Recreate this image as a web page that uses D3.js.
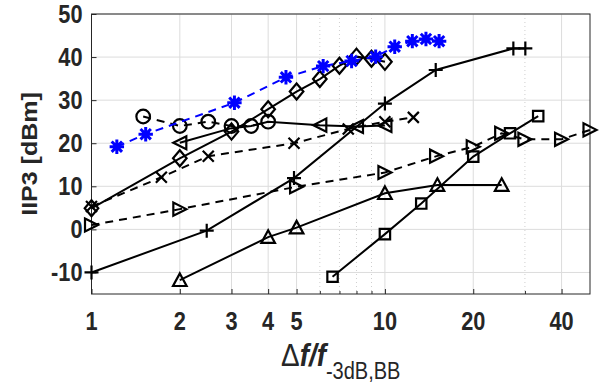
<!DOCTYPE html>
<html>
<head>
<meta charset="utf-8">
<script src="https://cdn.jsdelivr.net/npm/d3@7"></script>
<style>
  html, body { margin: 0; padding: 0; background: #ffffff; }
  svg { display: block; }
  text { font-family: "Liberation Sans", Arial, sans-serif; fill: #262626; }
</style>
</head>
<body>
<svg id="chart" width="601" height="392"></svg>
<script>
// Axis ticks
const xTicks = [1, 2, 3, 4, 5, 10, 20, 40];
const xMinor = [6, 7, 8, 9, 30];
const yTicks = [-10, 0, 10, 20, 30, 40, 50];

// Blue asterisks (dashed)
const starX = [1.22, 1.53, 3.07, 4.6, 6.16, 7.7, 9.3, 10.8, 12.4, 13.8, 15.3];
const starY = [19.2, 22.1, 29.4, 35.3, 37.9, 39.1, 40.1, 42.4, 43.7, 44.2, 43.7];

// Diamonds (solid)
const diamondX = [1, 2, 3, 4, 5, 6, 7, 8, 9, 10];
const diamondY = [4.9, 16.5, 22.7, 27.9, 32.0, 34.9, 38.0, 40.1, 39.6, 38.9];

// Circles (dashed)
const circleX = [1.5, 2, 2.5, 3, 3.5, 4];
const circleY = [26.2, 24.0, 25.0, 24.0, 24.0, 25.0];

// Left-pointing triangles (solid); markers only where flagged
const leftX = [2, 3, 3.5, 4, 6, 8, 10];
const leftY = [20.1, 23.5, 24.0, 25.0, 24.2, 23.9, 24.1];
const leftMarked = [true, false, false, false, true, true, true];

// Crosses (dashed)
const crossX = [1, 1.73, 2.5, 4.9, 7.5, 10, 12.5];
const crossY = [5.3, 12.1, 17.0, 20.0, 23.3, 25.0, 26.0];

// Right-pointing triangles (dashed)
const rightX = [1, 2, 5, 10, 15, 20, 25, 30, 40, 50];
const rightY = [1.0, 4.7, 9.9, 13.2, 17.0, 19.2, 22.3, 20.9, 20.9, 23.1];

// Plus signs (solid)
const plusX = [1, 2.47, 4.9, 10, 14.9, 27.4, 30.1];
const plusY = [-10, -0.3, 11.9, 29.2, 37.0, 42.0, 42.0];

// Upward triangles (solid)
const upX = [2, 4, 5, 10, 15.1, 25];
const upY = [-11.8, -1.8, 0.4, 8.4, 10.3, 10.3];

// Squares (solid)
const squareX = [6.63, 10, 13.3, 20, 26.7, 33.3];
const squareY = [-11.0, -1.1, 6.0, 16.9, 22.3, 26.3];

const svg = d3.select("#chart");
const L = 91.5, R = 590, T = 14, B = 294;
const x = d3.scaleLog().domain([1, 50]).range([L, R]);
const y = d3.scaleLinear().domain([-15, 50]).range([B, T]);
const SX = 0.87; // horizontal condensing of the lettering

// Grid
const grid = svg.append("g");
grid.selectAll("line.gx").data(xTicks).join("line")
  .attr("x1", d => x(d)).attr("x2", d => x(d)).attr("y1", T).attr("y2", B)
  .attr("stroke", "#dcdcdc").attr("stroke-width", 1);
grid.selectAll("line.gm").data(xMinor).join("line")
  .attr("x1", d => x(d)).attr("x2", d => x(d)).attr("y1", T).attr("y2", B)
  .attr("stroke", "#cfcfcf").attr("stroke-width", 1).attr("stroke-dasharray", "1,3");
grid.selectAll("line.gy").data(yTicks).join("line")
  .attr("x1", L).attr("x2", R).attr("y1", d => y(d)).attr("y2", d => y(d))
  .attr("stroke", "#dcdcdc").attr("stroke-width", 1);

// Axes (ticks inside, box)
const axB = svg.append("g").attr("transform", `translate(0,${B})`)
  .call(d3.axisBottom(x).tickValues(xTicks.concat(xMinor)).tickSizeInner(-5).tickSizeOuter(0).tickFormat(""));
const axL = svg.append("g").attr("transform", `translate(${L},0)`)
  .call(d3.axisLeft(y).tickValues(yTicks).tickSizeInner(-5).tickSizeOuter(0).tickFormat(""));
[axB, axL].forEach(a => {
  a.select(".domain").remove();
  a.selectAll(".tick line").attr("stroke", "#262626").attr("stroke-width", 1);
});
axB.selectAll(".tick line").attr("y2", d => xMinor.includes(d) ? -3 : -5);
svg.append("rect").attr("x", L).attr("y", T).attr("width", R - L).attr("height", B - T)
  .attr("fill", "none").attr("stroke", "#262626").attr("stroke-width", 1);

// Tick labels
svg.append("g").selectAll("text").data(xTicks).join("text")
  .attr("transform", d => `translate(${x(d)},${B + 36}) scale(${SX},1)`)
  .attr("text-anchor", "middle").attr("font-size", 25).attr("font-weight", "bold")
  .text(d => d);
svg.append("g").selectAll("text").data(yTicks).join("text")
  .attr("transform", d => `translate(${L - 9},${y(d)}) scale(${SX},1)`)
  .attr("text-anchor", "end").attr("dominant-baseline", "central")
  .attr("font-size", 25).attr("font-weight", "bold")
  .text(d => d);

// Axis titles
svg.append("text")
  .attr("transform", `translate(30,${(T + B) / 2}) scale(${SX},1) rotate(-90)`)
  .attr("text-anchor", "middle").attr("dominant-baseline", "central")
  .attr("font-size", 25).attr("font-weight", "bold")
  .text("IIP3 [dBm]");

const xl = svg.append("text")
  .attr("transform", `translate(${(L + R) / 2},366) scale(${SX},1)`)
  .attr("text-anchor", "middle").attr("font-size", 32);
xl.append("tspan").text("\u0394");
xl.append("tspan").attr("font-style", "italic").attr("font-weight", "bold").text("f/f");
xl.append("tspan").attr("font-size", 23).attr("dy", 13).text("-3dB,BB");

// Marker shapes (pixel units)
const markers = {
  star: r => `M${-r},0L${r},0M0,${-r}L0,${r}M${-r*0.72},${-r*0.72}L${r*0.72},${r*0.72}M${-r*0.72},${r*0.72}L${r*0.72},${-r*0.72}`,
  diamond: r => `M0,${-r*1.18}L${r},0L0,${r*1.18}L${-r},0Z`,
  circle: r => `M${r},0A${r},${r} 0 1,1 ${-r},0A${r},${r} 0 1,1 ${r},0Z`,
  left: r => `M${-r},0L${r},${-r}L${r},${r}Z`,
  right: r => `M${r},0L${-r},${-r}L${-r},${r}Z`,
  up: r => `M0,${-r}L${r},${r*0.85}L${-r},${r*0.85}Z`,
  square: r => `M${-r},${-r}L${r},${-r}L${r},${r}L${-r},${r}Z`,
  cross: r => `M${-r},${-r}L${r},${r}M${-r},${r}L${r},${-r}`,
  plus: r => `M${-r},0L${r},0M0,${-r}L0,${r}`
};

const series = [
  { xs: rightX, ys: rightY, m: "right", r: 6.5, dash: true, color: "#000" },
  { xs: crossX, ys: crossY, m: "cross", r: 5.5, dash: true, color: "#000" },
  { xs: upX, ys: upY, m: "up", r: 6.8, dash: false, color: "#000" },
  { xs: squareX, ys: squareY, m: "square", r: 5.2, dash: false, color: "#000" },
  { xs: plusX, ys: plusY, m: "plus", r: 7, dash: false, color: "#000" },
  { xs: leftX, ys: leftY, m: "left", r: 6.5, dash: false, color: "#000", shown: leftMarked },
  { xs: diamondX, ys: diamondY, m: "diamond", r: 6.8, dash: false, color: "#000" },
  { xs: circleX, ys: circleY, m: "circle", r: 6.8, dash: true, color: "#000" },
  { xs: starX, ys: starY, m: "star", r: 7.2, dash: true, color: "#0000ff" }
];

const line = d3.line().x(d => x(d[0])).y(d => y(d[1]));
series.forEach(s => {
  const pts = s.xs.map((v, i) => [v, s.ys[i], s.shown ? s.shown[i] : true]);
  const g = svg.append("g");
  g.append("path").datum(pts).attr("d", line)
    .attr("fill", "none").attr("stroke", s.color).attr("stroke-width", 2)
    .attr("stroke-dasharray", s.dash ? "8,6" : null);
  g.selectAll("path.mk").data(pts.filter(p => p[2])).join("path")
    .attr("class", "mk")
    .attr("transform", d => `translate(${x(d[0])},${y(d[1])})`)
    .attr("d", markers[s.m](s.r))
    .attr("fill", "none").attr("stroke", s.color)
    .attr("stroke-width", s.m === "star" ? 3 : 2.2);
});
</script>
</body>
</html>
